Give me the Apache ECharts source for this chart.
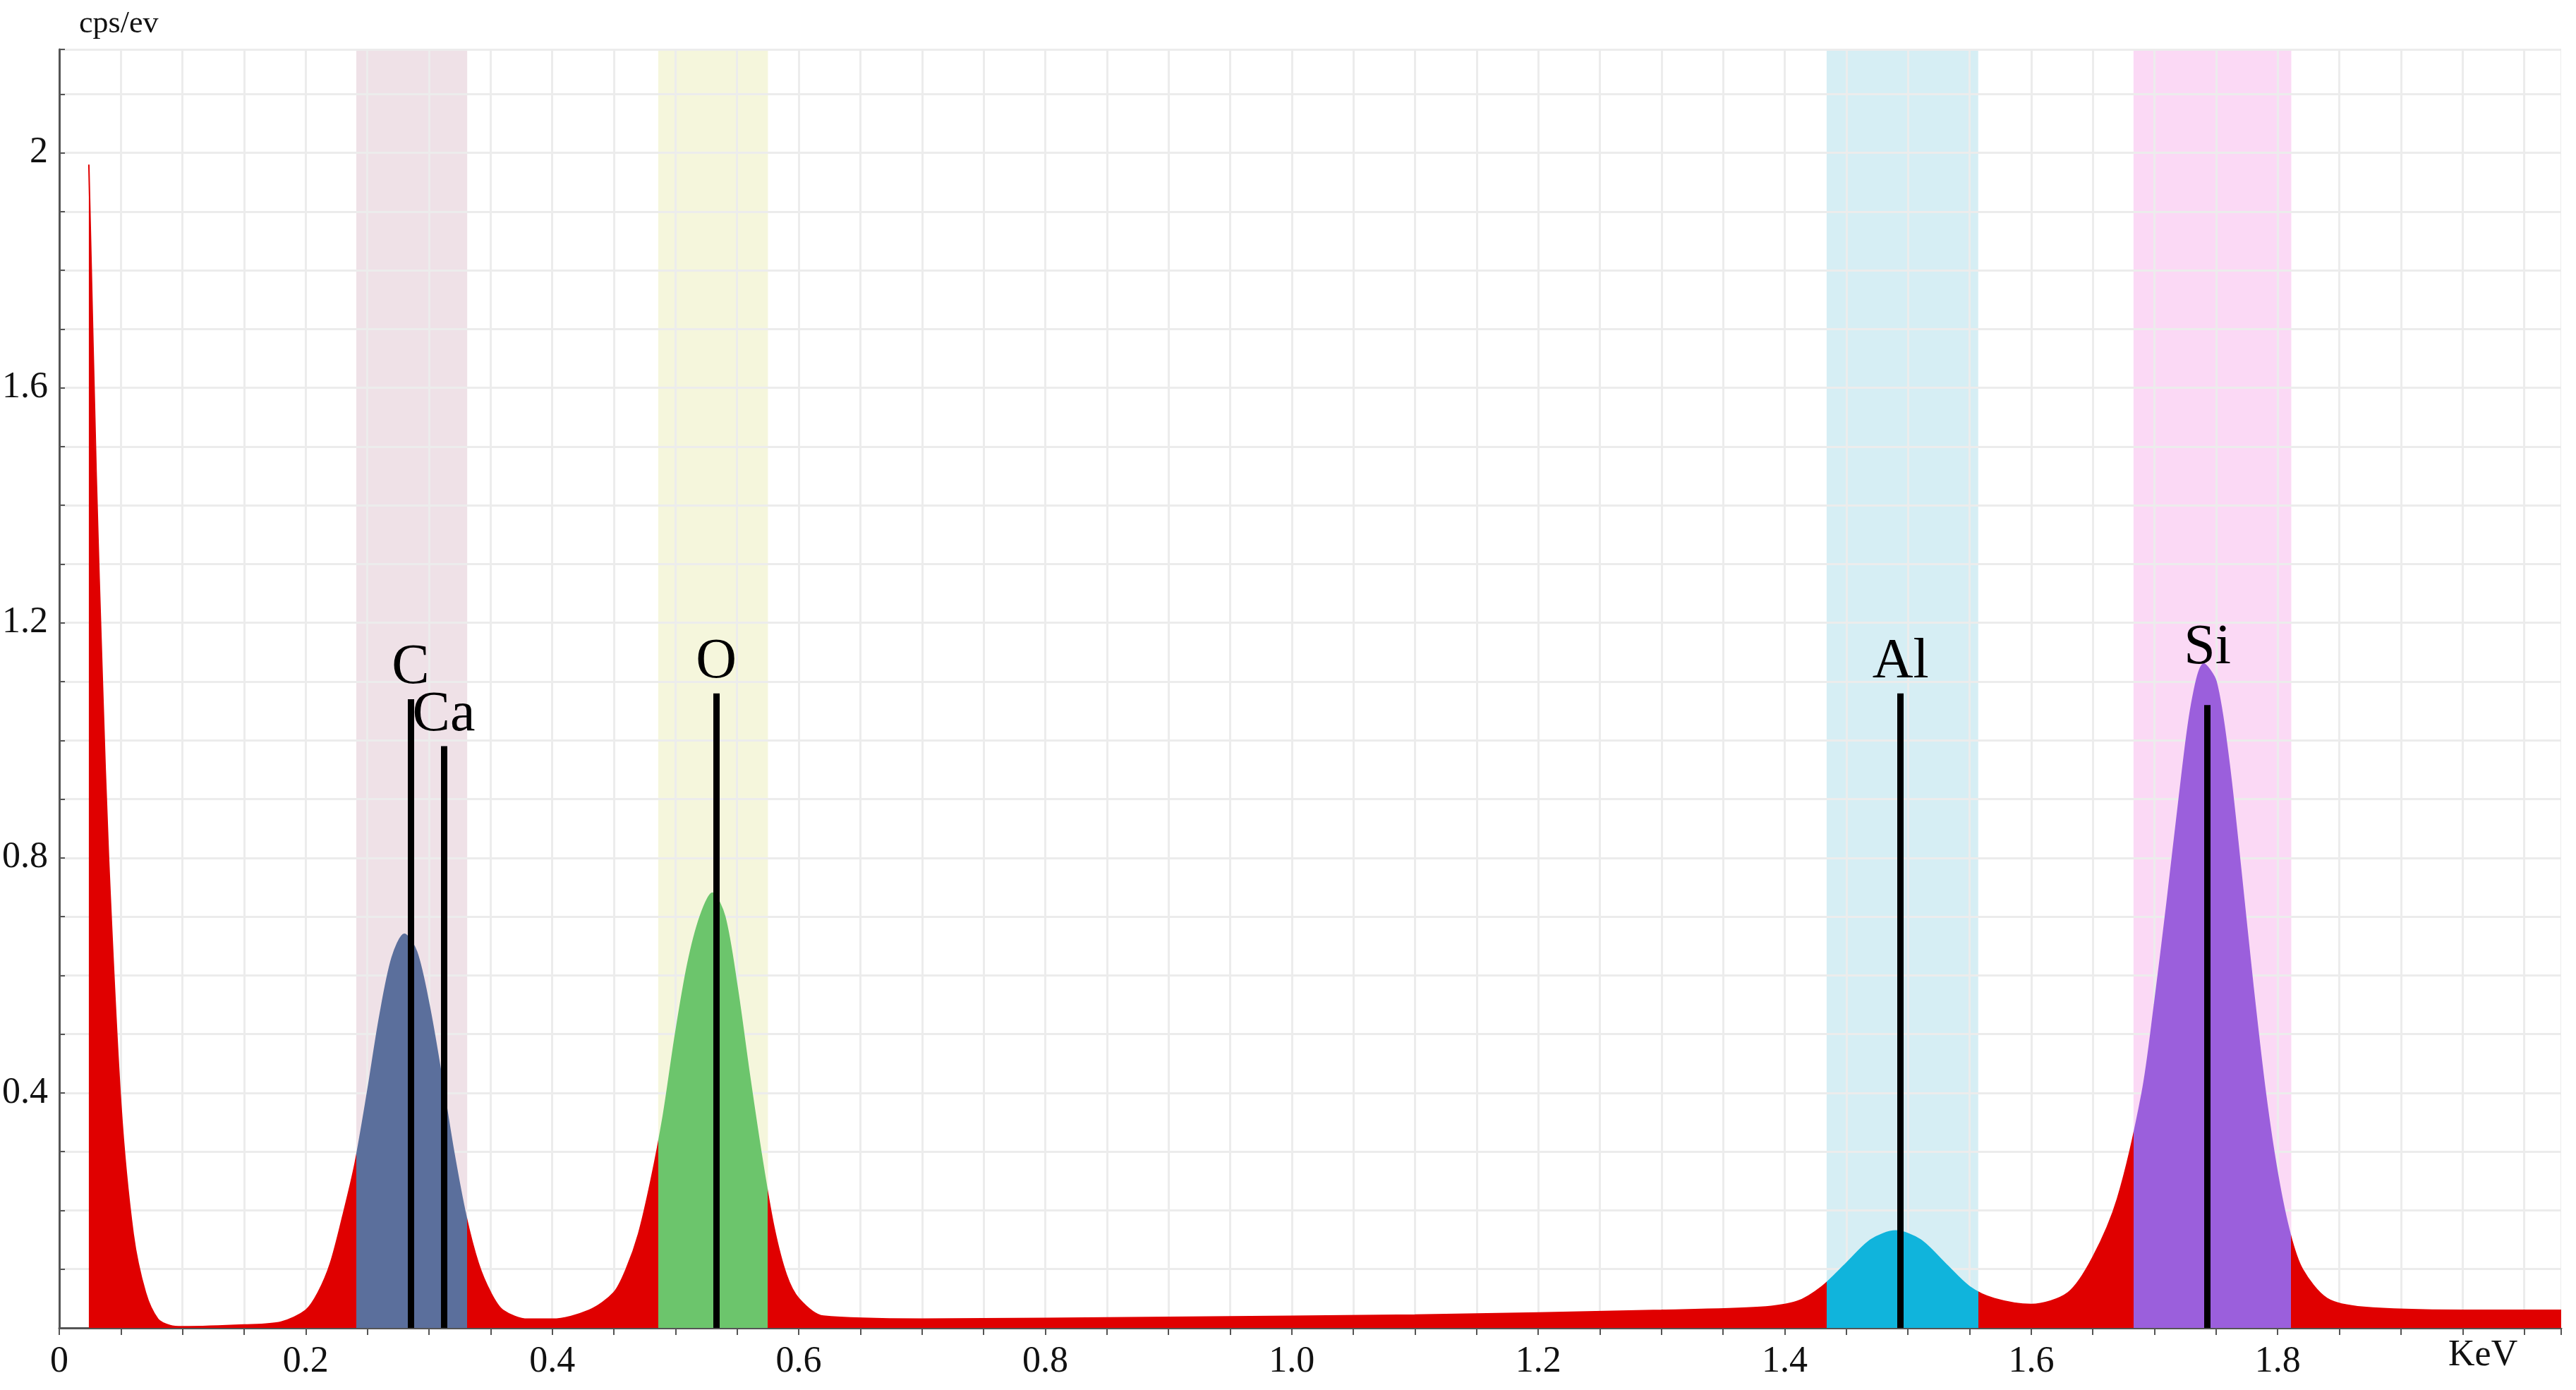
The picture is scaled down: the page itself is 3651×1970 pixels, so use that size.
<!DOCTYPE html>
<html><head><meta charset="utf-8">
<script src="https://cdn.jsdelivr.net/npm/echarts@6/dist/echarts.min.js"></script>
<style>html,body{margin:0;background:#fff}#main{width:3651px;height:1970px}</style>
</head><body><div id="main"></div>
<script>
// spectrum: [keV, cps/ev]
var spectrum = [
  [0.024,1.98],[0.03,1.45],[0.035,1.1],[0.04,0.8],[0.05,0.38],[0.06,0.16],[0.07,0.06],[0.08,0.015],[0.09,0.004],
  [0.1,0.002],[0.15,0.005],[0.18,0.01],[0.2,0.03],[0.21,0.06],[0.22,0.11],[0.23,0.19],[0.24,0.28],
  [0.25,0.40],[0.26,0.53],[0.27,0.63],[0.28,0.67],[0.29,0.64],[0.30,0.55],[0.31,0.43],[0.32,0.30],
  [0.33,0.19],[0.34,0.11],[0.35,0.06],[0.36,0.03],[0.38,0.015],[0.40,0.015],[0.43,0.03],[0.45,0.06],
  [0.46,0.10],[0.47,0.16],[0.48,0.25],[0.49,0.36],[0.50,0.50],[0.51,0.62],[0.52,0.70],[0.53,0.74],
  [0.54,0.70],[0.55,0.58],[0.56,0.43],[0.57,0.29],[0.58,0.17],[0.59,0.09],[0.60,0.05],[0.62,0.02],
  [0.7,0.015],[0.9,0.018],[1.1,0.022],[1.3,0.03],[1.38,0.035],[1.41,0.045],[1.43,0.07],[1.45,0.11],
  [1.47,0.15],[1.49,0.165],[1.51,0.15],[1.53,0.11],[1.55,0.07],[1.57,0.05],[1.6,0.04],[1.63,0.06],
  [1.65,0.12],[1.67,0.22],[1.69,0.40],[1.70,0.55],[1.71,0.72],[1.72,0.90],[1.73,1.06],[1.74,1.13],
  [1.75,1.10],[1.76,0.97],[1.77,0.78],[1.78,0.58],[1.79,0.40],[1.80,0.26],[1.81,0.16],[1.82,0.10],
  [1.84,0.05],[1.87,0.035],[1.95,0.03],[2.03,0.03]
];
// element windows [from, to] keV and colours
var windows = [[0.241, 0.331], [0.486, 0.575], [1.434, 1.557], [1.683, 1.811]];
var bandColors = ['#efe1e7', '#f5f6dc', '#d6eef4', '#fbd9f5'];
var peakColors = ['#5b6f9c', '#6cc56c', '#10b4dc', '#9b5fdc'];
// marker lines: name, keV, height
var lineNames = ['C', 'Ca', 'O', 'Al', 'Si'];
var linePos = [0.285, 0.312, 0.533, 1.494, 1.743];
var lineTop = [1.07, 0.99, 1.08, 1.08, 1.06];

var chart = echarts.init(document.getElementById('main'));
var serif = 'Liberation Serif';

var pieces = windows.map(function (w, i) {
  return { gt: w[0], lte: w[1], color: peakColors[i] };
});
var markLines = linePos.map(function (x, i) {
  var lab = { formatter: lineNames[i] };
  if (lineNames[i] === 'Si') lab.distance = 40;
  return [{ coord: [x, 0], label: lab }, { coord: [x, lineTop[i]] }];
});
var markAreas = windows.map(function (w, i) {
  return [{ xAxis: w[0], itemStyle: { color: bandColors[i] } }, { xAxis: w[1] }];
});

chart.setOption({
  animation: false,
  grid: { left: 77, right: 21, top: 70, bottom: 88 },
  xAxis: {
    type: 'value', min: 0, max: 2.03, interval: 0.05,
    axisLine: { lineStyle: { color: '#555', width: 3 } },
    axisTick: { length: 10, lineStyle: { color: '#555', width: 2 } },
    axisLabel: {
      fontFamily: serif, fontSize: 52, color: '#111', margin: 22,
      formatter: function (v) {
        var k = Math.round(v * 100);
        if (k === 0) return '0';
        if (k >= 200) return '';
        return k % 20 === 0 ? v.toFixed(1) : '';
      }
    },
    splitLine: { lineStyle: { color: '#ececec', width: 3 } }
  },
  yAxis: {
    type: 'value', min: 0, max: 2.176, interval: 0.1,
    axisLine: { show: true, lineStyle: { color: '#555', width: 3 } },
    axisTick: { show: true, inside: true, length: 8, lineStyle: { color: '#555', width: 2 } },
    axisLabel: {
      fontFamily: serif, fontSize: 52, color: '#111', margin: 16,
      formatter: function (v) {
        var k = Math.round(v * 10);
        if (k === 0) return '';
        if (k === 20) return '2';
        return k % 4 === 0 ? v.toFixed(1) : '';
      }
    },
    splitLine: { lineStyle: { color: '#ececec', width: 3 } }
  },
  visualMap: {
    show: false, type: 'piecewise', dimension: 0, seriesIndex: 0,
    pieces: pieces, outOfRange: { color: '#e00000' }
  },
  graphic: [
    { type: 'text', left: 112, top: 12, style: { text: 'cps/ev', font: '44px "Liberation Serif"', fill: '#111' } },
    { type: 'text', left: 3470, top: 1895, style: { text: 'KeV', font: '52px "Liberation Serif"', fill: '#111' } },
    { type: 'rect', shape: { x: 3630, y: 70, width: 21, height: 1812 }, style: { fill: '#fff' }, z: 100 }
  ],
  series: [{
    type: 'line', data: spectrum, smooth: 0.3, symbol: 'none',
    lineStyle: { width: 2 },
    areaStyle: { opacity: 1 },
    markArea: { silent: true, z: -1, data: markAreas },
    markLine: {
      silent: true, symbol: 'none',
      lineStyle: { color: '#000', width: 9, type: 'solid' },
      label: { position: 'end', fontFamily: serif, fontSize: 80, color: '#000', distance: 4 },
      data: markLines
    }
  }]
});
</script></body></html>
